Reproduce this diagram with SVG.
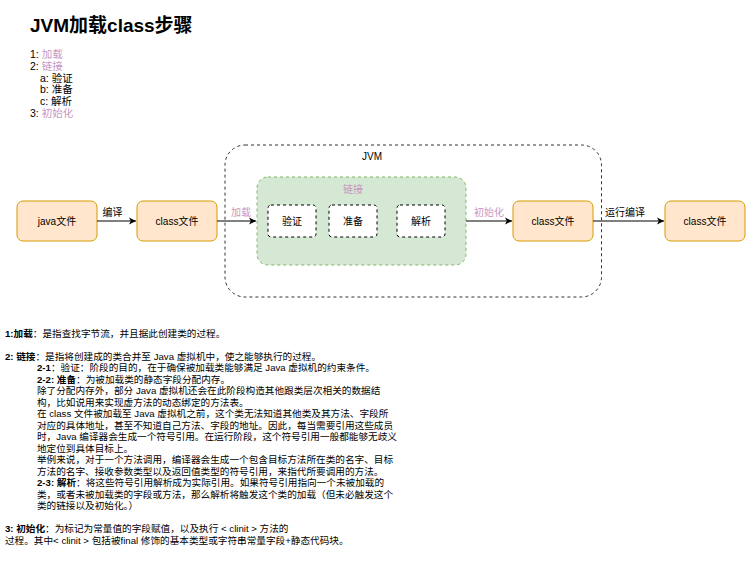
<svg xmlns="http://www.w3.org/2000/svg" width="747" height="563" viewBox="0 0 747 563">
  <defs>
    <style>
      text { font-family: "Liberation Sans", "Noto Sans CJK SC", sans-serif; fill: #000; }
      .title { font-size: 19px; font-weight: bold; }
      .list { font-size: 10.5px; }
      .pink { fill: #c896c0; }
      .lbl { font-size: 10px; text-anchor: middle; dominant-baseline: central; }
      .body { font-size: 9.65px; }
      .b { font-weight: bold; }
      .file { fill: #ffe6cc; stroke: #d79b00; stroke-width: 1; }
      .step { fill: #ffffff; stroke: #000; stroke-width: 1; stroke-dasharray: 3 3; }
      .conn { fill: none; stroke: #000; stroke-width: 1; }
    </style>
    <marker id="arrow" markerWidth="8" markerHeight="8" refX="7" refY="4" orient="auto" markerUnits="userSpaceOnUse">
      <path d="M0,0.5 L7,4 L0,7.5 L1.8,4 Z" fill="#000"/>
    </marker>
  </defs>

  <rect width="747" height="563" fill="#ffffff"/>

  <!-- heading and step list -->
  <text class="title" x="30" y="31.5">JVM加载class步骤</text>
  <g class="list">
    <text x="30" y="57.5">1: <tspan class="pink">加载</tspan></text>
    <text x="30" y="69.5">2: <tspan class="pink">链接</tspan></text>
    <text x="40" y="81.5">a: 验证</text>
    <text x="40" y="93">b: 准备</text>
    <text x="40" y="104.5">c: 解析</text>
    <text x="30" y="116.5">3: <tspan class="pink">初始化</tspan></text>
  </g>

  <!-- JVM container -->
  <g id="jvm">
    <rect x="225" y="145" width="376.5" height="152" rx="20" ry="20" fill="none" stroke="#333" stroke-dasharray="3 3"/>
    <text class="lbl" x="372" y="156.5">JVM</text>
  </g>

  <!-- linking stage -->
  <g id="link">
    <rect x="257" y="177" width="209" height="88" rx="11" ry="11" fill="#d5e8d4" stroke="#82b366" stroke-dasharray="3 3"/>
    <text class="lbl pink" x="353" y="189">链接</text>
  </g>
  <g id="verify">
    <rect class="step" x="268" y="205" width="48" height="32" rx="3"/>
    <text class="lbl" x="292" y="221">验证</text>
  </g>
  <g id="prepare">
    <rect class="step" x="329" y="205" width="48" height="32" rx="3"/>
    <text class="lbl" x="353" y="221">准备</text>
  </g>
  <g id="resolve">
    <rect class="step" x="397" y="205" width="48" height="32" rx="3"/>
    <text class="lbl" x="421" y="221">解析</text>
  </g>

  <!-- file nodes -->
  <g id="java-file">
    <rect class="file" x="17" y="201" width="80" height="40" rx="6"/>
    <text class="lbl" x="57" y="221">java文件</text>
  </g>
  <g id="class-file-1">
    <rect class="file" x="137" y="201" width="80" height="40" rx="6"/>
    <text class="lbl" x="177" y="221">class文件</text>
  </g>
  <g id="class-file-2">
    <rect class="file" x="513" y="201" width="80" height="40" rx="6"/>
    <text class="lbl" x="553" y="221">class文件</text>
  </g>
  <g id="class-file-3">
    <rect class="file" x="665" y="201" width="80" height="40" rx="6"/>
    <text class="lbl" x="705" y="221">class文件</text>
  </g>

  <!-- connectors -->
  <g id="connectors">
    <line class="conn" x1="97" y1="221" x2="136" y2="221" marker-end="url(#arrow)"/>
    <text class="lbl" x="112.5" y="212">编译</text>
    <line class="conn" x1="217" y1="221" x2="256" y2="221" marker-end="url(#arrow)"/>
    <text class="lbl pink" x="241" y="212.5">加载</text>
    <line class="conn" x1="466" y1="221" x2="512" y2="221" marker-end="url(#arrow)"/>
    <text class="lbl pink" x="489" y="212">初始化</text>
    <line class="conn" x1="593" y1="221" x2="664" y2="221" marker-end="url(#arrow)"/>
    <text class="lbl" x="625" y="212">运行编译</text>
  </g>

  <!-- description -->
  <g class="body">
    <text x="5" y="336.5"><tspan class="b">1:加载</tspan>：是指查找字节流，并且据此创建类的过程。</text>
    <text x="5" y="359.5"><tspan class="b">2: 链接</tspan>：是指将创建成的类合并至 Java 虚拟机中，使之能够执行的过程。</text>
    <text x="37" y="371"><tspan class="b">2-1</tspan>：验证：阶段的目的，在于确保被加载类能够满足 Java 虚拟机的约束条件。</text>
    <text x="37" y="382.5"><tspan class="b">2-2: 准备</tspan>：为被加载类的静态字段分配内存。</text>
    <text x="37" y="394">除了分配内存外，部分 Java 虚拟机还会在此阶段构造其他跟类层次相关的数据结</text>
    <text x="37" y="405.5">构，比如说用来实现虚方法的动态绑定的方法表。</text>
    <text x="37" y="417">在 class 文件被加载至 Java 虚拟机之前，这个类无法知道其他类及其方法、字段所</text>
    <text x="37" y="428.5">对应的具体地址，甚至不知道自己方法、字段的地址。因此，每当需要引用这些成员</text>
    <text x="37" y="440">时，Java 编译器会生成一个符号引用。在运行阶段，这个符号引用一般都能够无歧义</text>
    <text x="37" y="451.5">地定位到具体目标上。</text>
    <text x="37" y="463">举例来说，对于一个方法调用，编译器会生成一个包含目标方法所在类的名字、目标</text>
    <text x="37" y="474.5">方法的名字、接收参数类型以及返回值类型的符号引用，来指代所要调用的方法。</text>
    <text x="37" y="486"><tspan class="b">2-3: 解析</tspan>：将这些符号引用解析成为实际引用。如果符号引用指向一个未被加载的</text>
    <text x="37" y="497.5">类，或者未被加载类的字段或方法，那么解析将触发这个类的加载（但未必触发这个</text>
    <text x="37" y="509">类的链接以及初始化。）</text>
    <text x="5" y="532"><tspan class="b">3: 初始化</tspan>：为标记为常量值的字段赋值，以及执行 &lt; clinit &gt; 方法的</text>
    <text x="5" y="543.5">过程。其中&lt; clinit &gt; 包括被final 修饰的基本类型或字符串常量字段+静态代码块。</text>
  </g>
</svg>
